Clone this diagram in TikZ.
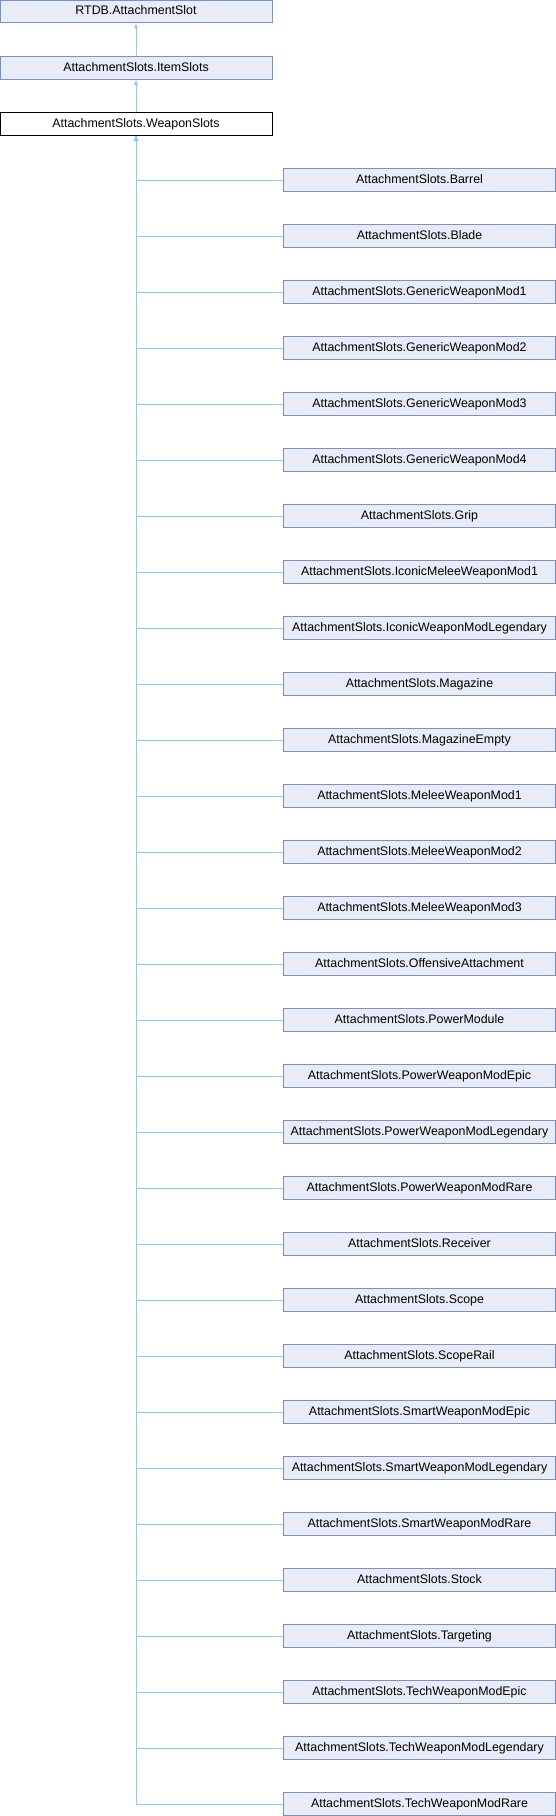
\documentclass[tikz,border=0pt]{standalone}
\usepackage{fontspec}
\setmainfont{Liberation Sans}
\usetikzlibrary{arrows.meta}
\definecolor{boxfill}{HTML}{E8ECF6}
\definecolor{boxline}{HTML}{7A90C8}
\definecolor{edgecol}{HTML}{8FCBEE}
\tikzset{
  cls/.style={draw=boxline, fill=boxfill, line width=1pt, minimum width=272pt, minimum height=22.5pt, inner sep=0pt, font=\fontsize{12.4}{14}\selectfont, text height=9pt, text depth=2.5pt},
  cur/.style={cls, draw=black, fill=white},
  edge/.style={draw=edgecol, line width=1pt, {Latex[length=5pt,width=4.5pt]}-}
}
\begin{document}
\begin{tikzpicture}[x=1pt,y=-1pt]
\useasboundingbox (0,0) rectangle (556,1816);
\node[cls] (rtdb) at (136,11.5) {RTDB.AttachmentSlot};
\node[cls] (item) at (136,68) {AttachmentSlots.ItemSlots};
\node[cur] (ws) at (136,124) {AttachmentSlots.WeaponSlots};
\draw[edge] (rtdb.south) -- (item.north);
\draw[edge] (item.south) -- (ws.north);
\foreach \name [count=\i from 0] in {Barrel,Blade,GenericWeaponMod1,GenericWeaponMod2,GenericWeaponMod3,GenericWeaponMod4,Grip,IconicMeleeWeaponMod1,IconicWeaponModLegendary,Magazine,MagazineEmpty,MeleeWeaponMod1,MeleeWeaponMod2,MeleeWeaponMod3,OffensiveAttachment,PowerModule,PowerWeaponModEpic,PowerWeaponModLegendary,PowerWeaponModRare,Receiver,Scope,ScopeRail,SmartWeaponModEpic,SmartWeaponModLegendary,SmartWeaponModRare,Stock,Targeting,TechWeaponModEpic,TechWeaponModLegendary,TechWeaponModRare}{
  \node[cls] (c\i) at (419.5,180+56*\i) {AttachmentSlots.\name};
  \draw[edge] (ws.south) |- (c\i.west);
}
\end{tikzpicture}
\end{document}
